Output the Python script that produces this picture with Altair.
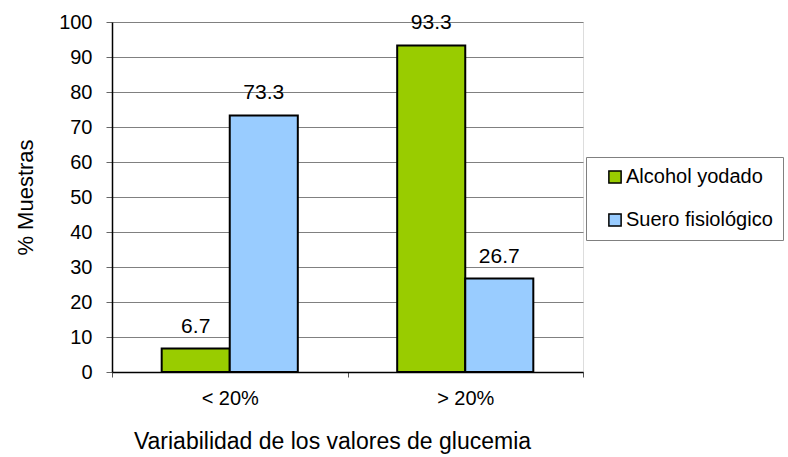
import altair as alt
import pandas as pd

categories = ["< 20%", "> 20%"]
series = ["Alcohol yodado", "Suero fisiológico"]
alcohol = [6.7, 93.3]
suero = [73.3, 26.7]
colors = ["#99CC00", "#99CCFF"]
y_ticks = list(range(0, 101, 10))

rows = []
for s, vals in zip(series, [alcohol, suero]):
    for c, v in zip(categories, vals):
        rows.append({"cat": c, "serie": s, "valor": v})
df = pd.DataFrame(rows)

FONT = "Liberation Sans"

base = alt.Chart(df).encode(
    x=alt.X(
        "cat:N",
        sort=categories,
        scale=alt.Scale(paddingInner=0, paddingOuter=0),
        axis=alt.Axis(
            title="Variabilidad de los valores de glucemia",
            labelAngle=0,
            tickBand="extent",
            tickSize=5,
            tickColor="#555555",
            labelPadding=11,
            domainColor="black",
            domainWidth=1.5,
            titleX=220,
            titleY=76,
            titleBaseline="alphabetic",
            titleFontSize=23,
            titleFontWeight="normal",
            labelFontSize=20,
            grid=False,
        ),
    ),
    xOffset=alt.XOffset(
        "serie:N", sort=series, scale=alt.Scale(paddingInner=0, paddingOuter=0.73)
    ),
    y=alt.Y(
        "valor:Q",
        scale=alt.Scale(domain=[0, 100], nice=False),
        axis=alt.Axis(
            values=y_ticks,
            title="% Muestras",
            tickSize=6,
            tickColor="#666666",
            labelPadding=14,
            domainColor="black",
            domainWidth=1.5,
            grid=True,
            gridColor="#808080",
            gridWidth=1.2,
            labelFontSize=20,
            titleFontSize=22,
            titleFontWeight="normal",
            titleX=-80,
            titleY=175,
            titleBaseline="alphabetic",
        ),
    ),
)

bars = base.mark_bar(stroke="black", strokeWidth=2).encode(
    color=alt.Color(
        "serie:N",
        sort=series,
        scale=alt.Scale(domain=series, range=colors),
        legend=alt.Legend(
            title=None,
            orient="none",
            legendX=474,
            legendY=135,
            fillColor="white",
            strokeColor="#808080",
            padding=10,
            symbolType="square",
            symbolSize=150,
            symbolStrokeColor="black",
            symbolStrokeWidth=1.5,
            labelFontSize=20,
            labelFont=FONT,
            labelColor="black",
            rowPadding=23,
            symbolOffset=9,
            labelOffset=1,
        ),
    )
)

labels = base.mark_text(baseline="alphabetic", dy=-16, fontSize=21, font=FONT, color="black").encode(
    text=alt.Text("valor:Q", format=".1f")
)

chart = (
    alt.layer(bars, labels)
    .properties(
        width=471,
        height=350,
        autosize=alt.AutoSizeParams(type="none"),
        padding={"left": 112, "top": 22, "right": 205, "bottom": 85},
    )
    .configure_view(stroke="#808080", strokeWidth=1.2)
    .configure_axis(
        labelFont=FONT,
        titleFont=FONT,
        labelColor="black",
        titleColor="black",
        titleFontWeight="normal",
    )
    .configure(background="white")
)

chart.save("out.html", embed_options={"renderer": "svg", "actions": False})
